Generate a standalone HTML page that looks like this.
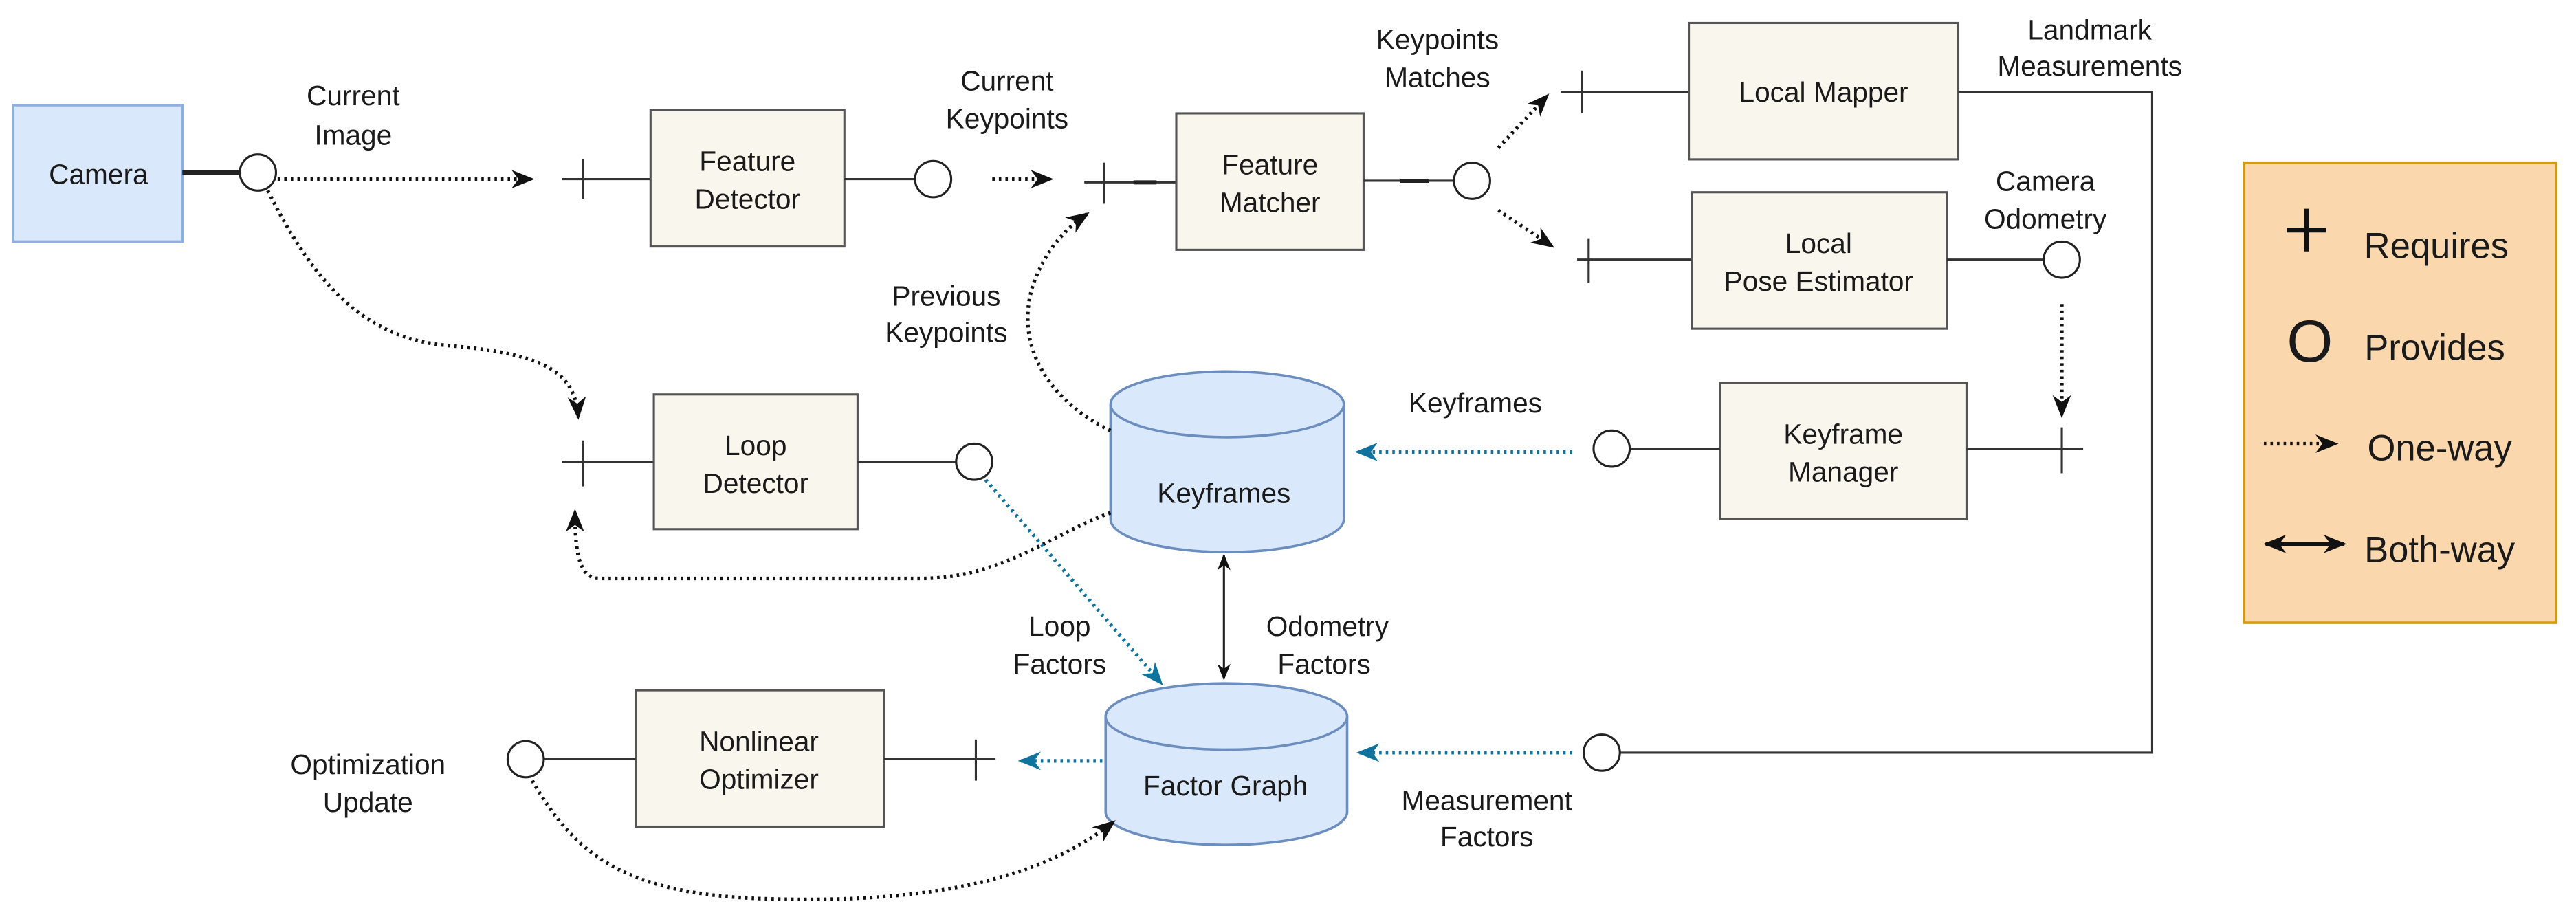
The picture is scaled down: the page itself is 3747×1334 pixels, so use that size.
<!DOCTYPE html>
<html><head><meta charset="utf-8"><style>
html,body{margin:0;padding:0;background:#fff;}
svg{display:block;}
text{font-family:"Liberation Sans",sans-serif;font-size:17px;fill:#1a1a1a;text-anchor:middle;}
.box{fill:#f9f7ed;stroke:#555;stroke-width:1.3;}
.ln{stroke:#333;stroke-width:1.3;fill:none;}
.dot{stroke:#111;stroke-width:2.2;stroke-dasharray:1.5 2.5;fill:none;}
.blu{stroke:#10739e;stroke-width:2.2;stroke-dasharray:1.5 2.5;fill:none;}
.c{fill:#fff;stroke:#222;stroke-width:1.3;}
.cyl{fill:#dae8fc;stroke:#6c8ebf;stroke-width:1.5;}
</style></head><body>
<svg width="3747" height="1334" viewBox="0 0 1568 558" preserveAspectRatio="none">
<defs>
<marker id="a" viewBox="0 0 10 10" refX="9" refY="5" markerWidth="14" markerHeight="14" orient="auto" markerUnits="userSpaceOnUse"><path d="M0,1 L10,5 L0,9 L3,5z" fill="#111"/></marker>
<marker id="ab" viewBox="0 0 10 10" refX="9" refY="5" markerWidth="14" markerHeight="14" orient="auto" markerUnits="userSpaceOnUse"><path d="M0,1 L10,5 L0,9 L3,5z" fill="#10739e"/></marker>
<marker id="as" viewBox="0 0 10 10" refX="9" refY="5" markerWidth="10" markerHeight="10" orient="auto-start-reverse" markerUnits="userSpaceOnUse"><path d="M0,1 L10,5 L0,9 L3,5z" fill="#111"/></marker>
<marker id="as2" viewBox="0 0 10 10" refX="9" refY="5" markerWidth="14" markerHeight="14" orient="auto-start-reverse" markerUnits="userSpaceOnUse"><path d="M0,1 L10,5 L0,9 L3,5z" fill="#111"/></marker>
</defs>

<!-- Camera -->
<rect x="8" y="64" width="103" height="83" fill="#dae8fc" stroke="#8fb0de" stroke-width="1.5"/>
<text x="60" y="112">Camera</text>
<line x1="111" y1="105" x2="146" y2="105" stroke="#222" stroke-width="2.5"/>
<circle class="c" cx="157" cy="105" r="11"/>
<path class="dot" d="M169,109 L324,109" marker-end="url(#a)"/>
<text x="215" y="64">Current</text><text x="215" y="88">Image</text>

<!-- Feature Detector -->
<line class="ln" x1="342" y1="109" x2="396" y2="109"/><line class="ln" x1="355" y1="97" x2="355" y2="121"/>
<rect class="box" x="396" y="67" width="118" height="83"/>
<text x="455" y="104">Feature</text><text x="455" y="127">Detector</text>
<line class="ln" x1="514" y1="109" x2="557" y2="109"/>
<circle class="c" cx="568" cy="109" r="11"/>
<path class="dot" d="M604,109 L640,109" marker-end="url(#a)"/>
<text x="613" y="55">Current</text><text x="613" y="78">Keypoints</text>

<!-- Feature Matcher -->
<line class="ln" x1="660" y1="111" x2="716" y2="111"/><line x1="690" y1="111" x2="704" y2="111" stroke="#222" stroke-width="2.5"/><line class="ln" x1="672" y1="99" x2="672" y2="124"/>
<rect class="box" x="716" y="69" width="114" height="83" stroke="#888" stroke-width="2"/>
<text x="773" y="106">Feature</text><text x="773" y="129">Matcher</text>
<line class="ln" x1="830" y1="110" x2="885" y2="110"/><line x1="852" y1="110" x2="870" y2="110" stroke="#222" stroke-width="2.5"/>
<circle class="c" cx="896" cy="110" r="11"/>
<text x="875" y="30">Keypoints</text><text x="875" y="53">Matches</text>
<path class="dot" d="M912,90 L942,58" marker-end="url(#a)"/>
<path class="dot" d="M912,128 L945,150" marker-end="url(#a)"/>

<!-- Local Mapper -->
<line class="ln" x1="950" y1="56" x2="1028" y2="56"/><line class="ln" x1="963" y1="43" x2="963" y2="69"/>
<rect class="box" x="1028" y="14" width="164" height="83" stroke="#888" stroke-width="2"/>
<text x="1110" y="62">Local Mapper</text>
<path class="ln" d="M1192,56 L1310,56 L1310,458 L986,458" stroke="#555" stroke-width="1.6"/>
<text x="1272" y="24">Landmark</text><text x="1272" y="46">Measurements</text>

<!-- Local Pose Estimator -->
<line class="ln" x1="960" y1="158" x2="1030" y2="158"/><line class="ln" x1="967" y1="145" x2="967" y2="172"/>
<rect class="box" x="1030" y="117" width="155" height="83" stroke="#888" stroke-width="2"/>
<text x="1107" y="154">Local</text><text x="1107" y="177">Pose Estimator</text>
<line class="ln" x1="1185" y1="158" x2="1244" y2="158"/>
<circle class="c" cx="1255" cy="158" r="11"/>
<text x="1245" y="116">Camera</text><text x="1245" y="139">Odometry</text>
<path class="dot" d="M1255,185 L1255,253" marker-end="url(#a)"/>

<!-- Keyframe Manager -->
<rect class="box" x="1047" y="233" width="150" height="83"/>
<text x="1122" y="270">Keyframe</text><text x="1122" y="293">Manager</text>
<line class="ln" x1="1197" y1="273" x2="1268" y2="273"/><line class="ln" x1="1255" y1="260" x2="1255" y2="288"/>
<line class="ln" x1="992" y1="273" x2="1047" y2="273"/>
<circle class="c" cx="981" cy="273" r="11"/>
<text x="898" y="251">Keyframes</text>
<path class="blu" d="M957,275 L826,275" marker-end="url(#ab)"/>

<!-- Keyframes cylinder -->
<path class="cyl" d="M676,246 L676,316 A71,20 0 0 0 818,316 L818,246 A71,20 0 0 0 676,246 Z"/>
<path class="cyl" d="M676,246 A71,20 0 0 0 818,246" fill="none"/>
<text x="745" y="306">Keyframes</text>
<text x="576" y="186">Previous</text><text x="576" y="208">Keypoints</text>
<path class="dot" d="M676,262 C640,245 615,210 630,170 C638,150 650,138 662,130" marker-end="url(#a)"/>

<!-- Loop Detector -->
<line class="ln" x1="342" y1="281" x2="398" y2="281"/><line class="ln" x1="355" y1="268" x2="355" y2="296"/>
<rect class="box" x="398" y="240" width="124" height="82"/>
<text x="460" y="277">Loop</text><text x="460" y="300">Detector</text>
<line class="ln" x1="522" y1="281" x2="582" y2="281"/>
<circle class="c" cx="593" cy="281" r="11"/>
<path class="dot" d="M163,116 C190,170 220,205 270,210 C330,215 350,225 352,254" marker-end="url(#a)"/>
<path class="dot" d="M676,312 C640,325 610,352 560,352 L365,352 C352,352 350,335 350,311" marker-end="url(#a)"/>
<path class="blu" d="M600,292 L707,416" marker-end="url(#ab)"/>
<path d="M745,338 L745,413" stroke="#222" stroke-width="1.3" marker-start="url(#as)" marker-end="url(#as)"/>
<text x="645" y="387">Loop</text><text x="645" y="410">Factors</text>
<text x="808" y="387">Odometry</text><text x="806" y="410">Factors</text>

<!-- Factor Graph -->
<path class="cyl" d="M673,436 L673,494 A73,20 0 0 0 820,494 L820,436 A73,20 0 0 0 673,436 Z"/>
<path class="cyl" d="M673,436 A73,20 0 0 0 820,436" fill="none"/>
<text x="746" y="484">Factor Graph</text>
<path class="blu" d="M671,463 L621,463" marker-end="url(#ab)"/>
<path class="blu" d="M957,458 L827,458" marker-end="url(#ab)"/>
<circle class="c" cx="975" cy="458" r="11"/>
<text x="905" y="493">Measurement</text><text x="905" y="515">Factors</text>

<!-- Nonlinear Optimizer -->
<rect class="box" x="387" y="420" width="151" height="83"/>
<text x="462" y="457">Nonlinear</text><text x="462" y="480">Optimizer</text>
<line class="ln" x1="538" y1="462" x2="606" y2="462"/><line class="ln" x1="594" y1="450" x2="594" y2="475"/>
<line class="ln" x1="331" y1="462" x2="387" y2="462"/>
<circle class="c" cx="320" cy="462" r="11"/>
<text x="224" y="471">Optimization</text><text x="224" y="494">Update</text>
<path class="dot" d="M324,475 C350,520 380,545 470,547 C580,550 640,530 678,500" marker-end="url(#a)"/>

<!-- Legend -->
<rect x="1366" y="99" width="190" height="280" fill="#fad7ac" stroke="#d79b00" stroke-width="1.5"/>
<line x1="1404" y1="127" x2="1404" y2="153" stroke="#111" stroke-width="3"/>
<line x1="1392" y1="140" x2="1416" y2="140" stroke="#111" stroke-width="3"/>
<text x="1483" y="157" style="font-size:22px">Requires</text>
<text x="1406" y="220" style="font-size:36px">O</text>
<text x="1482" y="219" style="font-size:22px">Provides</text>
<path class="dot" d="M1378,270 L1422,270" marker-end="url(#a)"/>
<text x="1485" y="280" style="font-size:22px">One-way</text>
<path d="M1379,331 L1427,331" stroke="#111" stroke-width="2.5" marker-start="url(#as2)" marker-end="url(#as2)"/>
<text x="1485" y="342" style="font-size:22px">Both-way</text>
</svg>
</body></html>
